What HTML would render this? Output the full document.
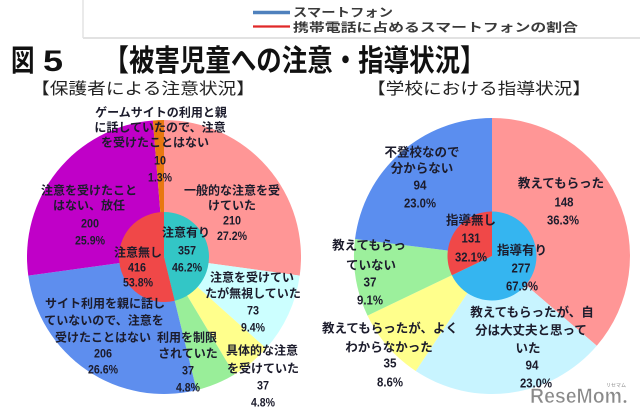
<!DOCTYPE html>
<html>
<head>
<meta charset="utf-8">
<style>
html,body{margin:0;padding:0;background:#fff;}
body{width:640px;height:418px;overflow:hidden;}
svg{display:block;}
.t{font-family:"Liberation Sans","Noto Sans CJK JP",sans-serif;}
.lb{font-family:"Liberation Sans","Noto Sans CJK JP",sans-serif;font-size:12px;font-weight:bold;fill:#1c1c2c;text-anchor:middle;}
.rb{font-family:"Liberation Sans","Noto Sans CJK JP",sans-serif;font-size:12.5px;font-weight:bold;fill:#1c1c2c;text-anchor:middle;}
</style>
</head>
<body>
<svg width="640" height="418" viewBox="0 0 640 418" xmlns="http://www.w3.org/2000/svg">
<rect x="0" y="0" width="640" height="418" fill="#fff"/>

<!-- legend frame remnants -->
<line x1="83" y1="0" x2="83" y2="38" stroke="#e2e2e2" stroke-width="1.5"/>
<line x1="83" y1="38" x2="640" y2="38" stroke="#e2e2e2" stroke-width="2"/>

<!-- legend -->
<line x1="253" y1="12.5" x2="290" y2="12.5" stroke="#4F81BD" stroke-width="3.5"/>
<line x1="253" y1="26.5" x2="290" y2="26.5" stroke="#E02828" stroke-width="2.2"/>
<text class="t" x="293" y="16.5" font-size="12" font-weight="bold" fill="#3a3a3a" textLength="100" lengthAdjust="spacingAndGlyphs">スマートフォン</text>
<text class="t" x="293" y="31.5" font-size="12" font-weight="bold" fill="#3a3a3a" textLength="285" lengthAdjust="spacingAndGlyphs">携帯電話に占めるスマートフォンの割合</text>

<!-- title -->
<text class="t" x="11" y="71" font-size="30" font-weight="bold" fill="#111" textLength="23.5" lengthAdjust="spacingAndGlyphs">図</text>
<text class="t" x="43" y="71" font-size="30" font-weight="bold" fill="#111" textLength="20" lengthAdjust="spacingAndGlyphs">5</text>
<text class="t" x="103.5" y="71" font-size="30" font-weight="bold" fill="#111" textLength="382" lengthAdjust="spacingAndGlyphs">【被害児童への注意・指導状況】</text>

<!-- subtitles -->
<text class="t" x="31" y="94" font-size="16" fill="#222" textLength="224" lengthAdjust="spacingAndGlyphs">【保護者による注意状況】</text>
<text class="t" x="367" y="94" font-size="16" fill="#222" textLength="224" lengthAdjust="spacingAndGlyphs">【学校における指導状況】</text>

<!-- LEFT PIE outer -->
<path d="M164,257 L164,120 A137,137 0 0 1 299.73,275.59 Z" fill="#FF9696"/>
<path d="M164,257 L299.73,275.59 A137,137 0 0 1 266.13,348.31 Z" fill="#CCFFFF"/>
<path d="M164,257 L266.13,348.31 A137,137 0 0 1 234.48,374.48 Z" fill="#FFFF8C"/>
<path d="M164,257 L234.48,374.48 A137,137 0 0 1 196.54,390.08 Z" fill="#99EE99"/>
<path d="M164,257 L196.54,390.08 A137,137 0 0 1 28.27,275.61 Z" fill="#5E8EEE"/>
<path d="M164,257 L28.27,275.61 A137,137 0 0 1 152.87,120.45 Z" fill="#C000C8"/>
<path d="M164,257 L152.87,120.45 A137,137 0 0 1 164,120 Z" fill="#E87810"/>
<!-- LEFT inner -->
<path d="M164,257 L164,212 A45,45 0 0 1 174.69,300.71 Z" fill="#33C6C6"/>
<path d="M164,257 L174.69,300.71 A45,45 0 1 1 164,212 Z" fill="#F04848"/>

<!-- RIGHT PIE outer -->
<path d="M492,256 L492,118 A138,138 0 0 1 596.79,345.79 Z" fill="#FF9696"/>
<path d="M492,256 L596.79,345.79 A138,138 0 0 1 415.77,371.03 Z" fill="#C8F4FF"/>
<path d="M492,256 L415.77,371.03 A138,138 0 0 1 367.53,315.60 Z" fill="#FFFF8C"/>
<path d="M492,256 L367.53,315.60 A138,138 0 0 1 355.05,239.04 Z" fill="#9CF09C"/>
<path d="M492,256 L355.05,239.04 A138,138 0 0 1 492,118 Z" fill="#5B8EEF"/>
<!-- RIGHT inner -->
<path d="M492,256 L492,211.5 A44.5,44.5 0 1 1 451.86,275.22 Z" fill="#35B5F0"/>
<path d="M492,256 L451.86,275.22 A44.5,44.5 0 0 1 492,211.5 Z" fill="#F04848"/>

<!-- LEFT labels -->
<text class="lb" x="161" y="116.5">ゲームサイトの利用と親</text>
<text class="lb" x="160" y="131.5">に話していたので、注意</text>
<text class="lb" x="155" y="146.5">を受けたことはない</text>
<text class="lb" x="160" y="164.5" textLength="12" lengthAdjust="spacingAndGlyphs">10</text>
<text class="lb" x="160" y="181.5" textLength="24" lengthAdjust="spacingAndGlyphs">1.3%</text>

<text class="lb" x="232" y="194.5">一般的な注意を受</text>
<text class="lb" x="232" y="209.5">けていた</text>
<text class="lb" x="232" y="224.5" textLength="18" lengthAdjust="spacingAndGlyphs">210</text>
<text class="lb" x="232" y="240" textLength="30" lengthAdjust="spacingAndGlyphs">27.2%</text>

<text class="lb" x="89" y="194.5">注意を受けたこと</text>
<text class="lb" x="89" y="209.5">はない、放任</text>
<text class="lb" x="90" y="227.5" textLength="18" lengthAdjust="spacingAndGlyphs">200</text>
<text class="lb" x="90" y="244.5" textLength="30" lengthAdjust="spacingAndGlyphs">25.9%</text>

<text class="lb" x="252" y="281.5">注意を受けてい</text>
<text class="lb" x="253" y="297.5">たが無視していた</text>
<text class="lb" x="253" y="314.5" textLength="12" lengthAdjust="spacingAndGlyphs">73</text>
<text class="lb" x="253" y="331.5" textLength="24" lengthAdjust="spacingAndGlyphs">9.4%</text>

<text class="lb" x="105" y="307.5">サイト利用を親に話し</text>
<text class="lb" x="104" y="324.5">ていないので、注意を</text>
<text class="lb" x="103" y="341.5">受けたことはない</text>
<text class="lb" x="103" y="357.5" textLength="18" lengthAdjust="spacingAndGlyphs">206</text>
<text class="lb" x="103" y="373.5" textLength="30" lengthAdjust="spacingAndGlyphs">26.6%</text>

<text class="lb" x="187" y="341.5">利用を制限</text>
<text class="lb" x="188" y="357.5">されていた</text>
<text class="lb" x="188" y="374.5" textLength="12" lengthAdjust="spacingAndGlyphs">37</text>
<text class="lb" x="188" y="391.5" textLength="24" lengthAdjust="spacingAndGlyphs">4.8%</text>

<text class="lb" x="262" y="354.5">具体的な注意</text>
<text class="lb" x="263" y="372.5">を受けていた</text>
<text class="lb" x="263" y="389.5" textLength="12" lengthAdjust="spacingAndGlyphs">37</text>
<text class="lb" x="263" y="406.5" textLength="24" lengthAdjust="spacingAndGlyphs">4.8%</text>

<text class="lb" x="186" y="236.5">注意有り</text>
<text class="lb" x="187" y="254.5" textLength="18" lengthAdjust="spacingAndGlyphs">357</text>
<text class="lb" x="187" y="271.5" textLength="30" lengthAdjust="spacingAndGlyphs">46.2%</text>
<text class="lb" x="138" y="256.5">注意無し</text>
<text class="lb" x="137" y="271.5" textLength="18" lengthAdjust="spacingAndGlyphs">416</text>
<text class="lb" x="138" y="286.5" textLength="30" lengthAdjust="spacingAndGlyphs">53.8%</text>

<!-- RIGHT labels -->
<text class="rb" x="422" y="156.5">不登校なので</text>
<text class="rb" x="422" y="172.5">分からない</text>
<text class="rb" x="420" y="189.5" textLength="13" lengthAdjust="spacingAndGlyphs">94</text>
<text class="rb" x="420" y="207.5" textLength="32" lengthAdjust="spacingAndGlyphs">23.0%</text>

<text class="rb" x="561" y="187.5">教えてもらった</text>
<text class="rb" x="564" y="206.5" textLength="19" lengthAdjust="spacingAndGlyphs">148</text>
<text class="rb" x="563" y="224.5" textLength="32" lengthAdjust="spacingAndGlyphs">36.3%</text>

<text class="rb" x="369" y="249.5">教えてもらっ</text>
<text class="rb" x="371" y="269.5">ていない</text>
<text class="rb" x="370" y="286.5" textLength="13" lengthAdjust="spacingAndGlyphs">37</text>
<text class="rb" x="370" y="304.5" textLength="26" lengthAdjust="spacingAndGlyphs">9.1%</text>

<text class="rb" x="390" y="332.5">教えてもらったが、よく</text>
<text class="rb" x="389" y="351.5">わからなかった</text>
<text class="rb" x="390" y="367.5" textLength="13" lengthAdjust="spacingAndGlyphs">35</text>
<text class="rb" x="390" y="386.5" textLength="26" lengthAdjust="spacingAndGlyphs">8.6%</text>

<text class="rb" x="532" y="316.5">教えてもらったが、自</text>
<text class="rb" x="531" y="334.5">分は大丈夫と思って</text>
<text class="rb" x="528" y="352.5">いた</text>
<text class="rb" x="532" y="369.5" textLength="13" lengthAdjust="spacingAndGlyphs">94</text>
<text class="rb" x="536" y="387.5" textLength="32" lengthAdjust="spacingAndGlyphs">23.0%</text>

<text class="rb" x="471" y="224.5">指導無し</text>
<text class="rb" x="471" y="242.5" textLength="19" lengthAdjust="spacingAndGlyphs">131</text>
<text class="rb" x="471" y="261.5" textLength="32" lengthAdjust="spacingAndGlyphs">32.1%</text>
<text class="rb" x="522" y="254.5">指導有り</text>
<text class="rb" x="521" y="272.5" textLength="19" lengthAdjust="spacingAndGlyphs">277</text>
<text class="rb" x="522" y="290.5" textLength="32" lengthAdjust="spacingAndGlyphs">67.9%</text>

<!-- watermark logo -->
<text class="t" x="530" y="403" font-size="21" font-weight="bold" fill="#8a8a8a" stroke="#fff" stroke-width="0.6" textLength="92" lengthAdjust="spacingAndGlyphs">ReseMom</text>
<circle cx="625" cy="401.5" r="1.4" fill="#8a8a8a"/>
<text class="t" x="606" y="387" font-size="5" fill="#8a8a8a">リセマム</text>
</svg>
</body>
</html>
